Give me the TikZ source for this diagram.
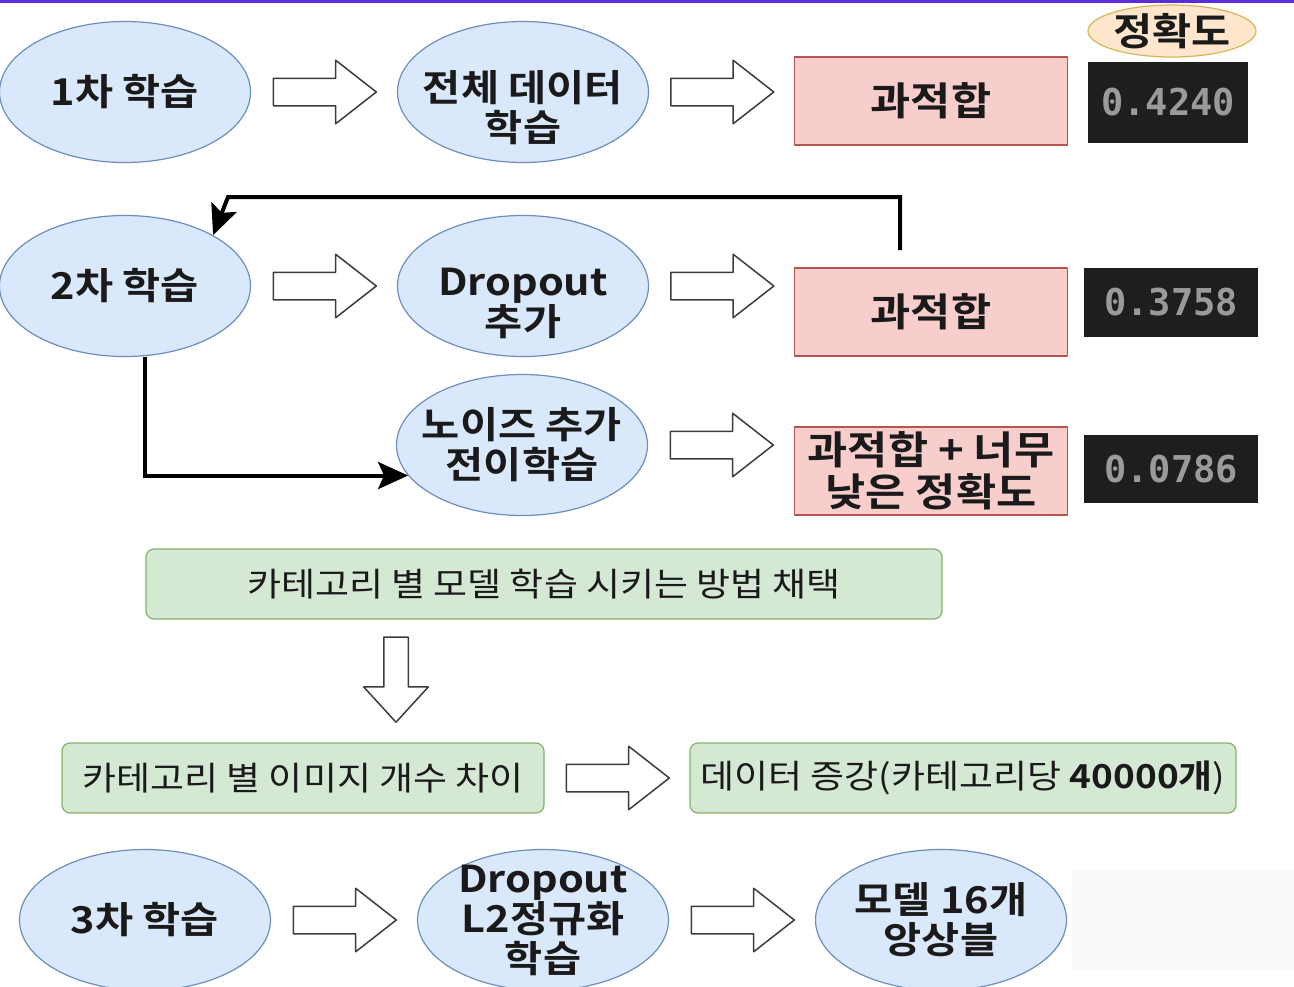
\documentclass[tikz,border=0pt]{standalone}
\usepackage{fontspec}
\setmainfont{Noto Sans CJK KR}[FakeStretch=1.12, BoldFont={Noto Sans CJK KR Bold}]
\setmonofont{DejaVu Sans Mono}
\usepackage{tikz}
\definecolor{ink}{HTML}{1A1A1A}
\definecolor{blobfill}{HTML}{DAE8FC}
\definecolor{blobline}{HTML}{6C8EBF}
\definecolor{pinkfill}{HTML}{F8CECC}
\definecolor{pinkline}{HTML}{B85450}
\definecolor{greenfill}{HTML}{D5E8D4}
\definecolor{greenline}{HTML}{82B366}
\definecolor{peachfill}{HTML}{FFE6CC}
\definecolor{peachline}{HTML}{D6B656}
\definecolor{scorebg}{HTML}{1E1E1E}
\definecolor{scoretext}{HTML}{9A9A9A}
\definecolor{topbar}{HTML}{5B2DD6}
\definecolor{faintbg}{HTML}{F9FAFC}
\usetikzlibrary{
  arrows.meta,
  positioning,
  calc,
  shapes.geometric,
  shapes.arrows
}
\tikzset{
  every picture/.style={line cap=round, line join=round},
  every node/.style={text=ink},
  bigfont/.style={font=\fontsize{37}{40}\selectfont\bfseries},
  blob/.style={
    ellipse,
    draw=blobline,
    fill=blobfill,
    line width=1.2pt,
    minimum width=251pt,
    minimum height=141pt,
    inner xsep=-60pt,
    inner ysep=-40pt,
    align=center,
    bigfont
  },
  blobtext/.style={align=center, inner sep=0pt, bigfont},
  overfit/.style={
    draw=pinkline,
    fill=pinkfill,
    line width=1.2pt,
    minimum width=273pt,
    minimum height=88pt,
    inner sep=0pt,
    align=center,
    font=\fontsize{39}{42}\selectfont\bfseries
  },
  scorebox/.style={
    fill=scorebg,
    inner sep=0pt,
    text=scoretext,
    font=\fontsize{37}{40}\selectfont\ttfamily\bfseries
  },
  accbubble/.style={
    ellipse,
    draw=peachline,
    fill=peachfill,
    line width=1.2pt,
    minimum width=168pt,
    minimum height=52pt,
    inner sep=0pt,
    font=\fontsize{38}{40}\selectfont\bfseries
  },
  stepgreen/.style={
    draw=greenline,
    fill=greenfill,
    line width=1.2pt,
    rounded corners=8pt,
    minimum height=70pt,
    inner sep=0pt,
    font=\fontsize{33}{36}\selectfont
  },
  hollow/.style={
    single arrow,
    draw=ink!85,
    fill=white,
    line width=1.5pt
  },
  fatright/.style={
    hollow,
    xshift=-8pt,
    minimum height=103pt,
    inner xsep=0pt,
    inner ysep=13pt,
    single arrow head extend=18pt,
    single arrow tip angle=76
  },
  fatdown/.style={
    hollow,
    yshift=7pt,
    shape border rotate=270,
    minimum height=85pt,
    inner xsep=11.5pt,
    inner ysep=0pt,
    single arrow head extend=20pt,
    single arrow tip angle=85
  },
  link/.style={
    -{Stealth[length=30pt, width=27pt, inset=6pt]},
    line width=4pt,
    line cap=butt,
    line join=miter,
    draw=black
  }
}

\begin{document}
\begin{tikzpicture}[x=1pt, y=-1pt]
  \useasboundingbox (0,0) rectangle (1294,986);
  \fill[topbar] (0,0) rectangle (1294,3);

  % first run
  \node[blob] (run1) at (125,92) {1차 학습};
  \node[blob] (fulldata) at (523,92) {};
  \node[blobtext] (fulldatatext) at (523,108) {전체 데이터\\학습};
  \node[overfit] (over1) at (931,101) {과적합};
  \node[scorebox, minimum width=160pt, minimum height=81pt] (score1) at (1168,102) {0.4240};
  \node[accbubble] (acc) at (1172,31) {정확도};
  \node[fatright] (a1) at ($(run1.east)!0.5!(fulldata.west)$) {};
  \node[fatright] (a2) at ($(fulldata.east)!0.5!(fulldata.east -| over1.west)$) {};

  % second run
  \node[blob] (run2) at (125,286) {2차 학습};
  \node[blob] (dropout) at (523,286) {};
  \node[blobtext] (dropouttext) at (523,303) {Dropout\\추가};
  \node[overfit] (over2) at (931,312) {과적합};
  \node[scorebox, minimum width=174pt, minimum height=69pt] (score2) at (1171,302) {0.3758};
  \node[fatright] (a3) at ($(run2.east)!0.5!(dropout.west)$) {};
  \node[fatright] (a4) at ($(dropout.east)!0.5!(dropout.east -| over2.west)$) {};

  % feedback and transfer branch
  \coordinate (fbstart) at (900,250);
  \coordinate (fbturn) at (228,197);
  \draw[link] (fbstart) |- (fbturn) -- (run2.30);

  \node[blob] (noise) at (522,445) {노이즈 추가\\전이학습};
  \node[overfit] (over3) at (931,471) {과적합 + 너무\\낮은 정확도};
  \node[scorebox, minimum width=174pt, minimum height=68pt] (score3) at (1171,469) {0.0786};
  \node[fatright] (a5) at ($(noise.east)!0.5!(noise.east -| over3.west)$) {};
  \draw[link] ([xshift=20pt]run2.south) |- (noise.195);

  % per-category models
  \node[stepgreen, minimum width=796pt] (percat) at (544,584) {카테고리 별 모델 학습 시키는 방법 채택};
  \node[fatdown] (a6) at (396,680) {};
  \node[stepgreen, minimum width=482pt] (imbalance) at (303,778) {카테고리 별 이미지 개수 차이};
  \node[stepgreen, minimum width=546pt] (augment) at (963,778) {데이터 증강(카테고리당 \textbf{40000개})};
  \node[fatright] (a7) at ($(imbalance.east)!0.5!(augment.west)$) {};

  % third run
  \node[blob] (run3) at (145,920) {3차 학습};
  \node[blob] (l2reg) at (543,920) {Dropout\\L2정규화\\학습};
  \node[blob] (ensemble) at (941,920) {모델 16개\\앙상블};
  \node[fatright] (a8) at ($(run3.east)!0.5!(l2reg.west)$) {};
  \node[fatright] (a9) at ($(l2reg.east)!0.5!(ensemble.west)$) {};
  \fill[faintbg] (1072,870) rectangle (1294,970);
\end{tikzpicture}
\end{document}
